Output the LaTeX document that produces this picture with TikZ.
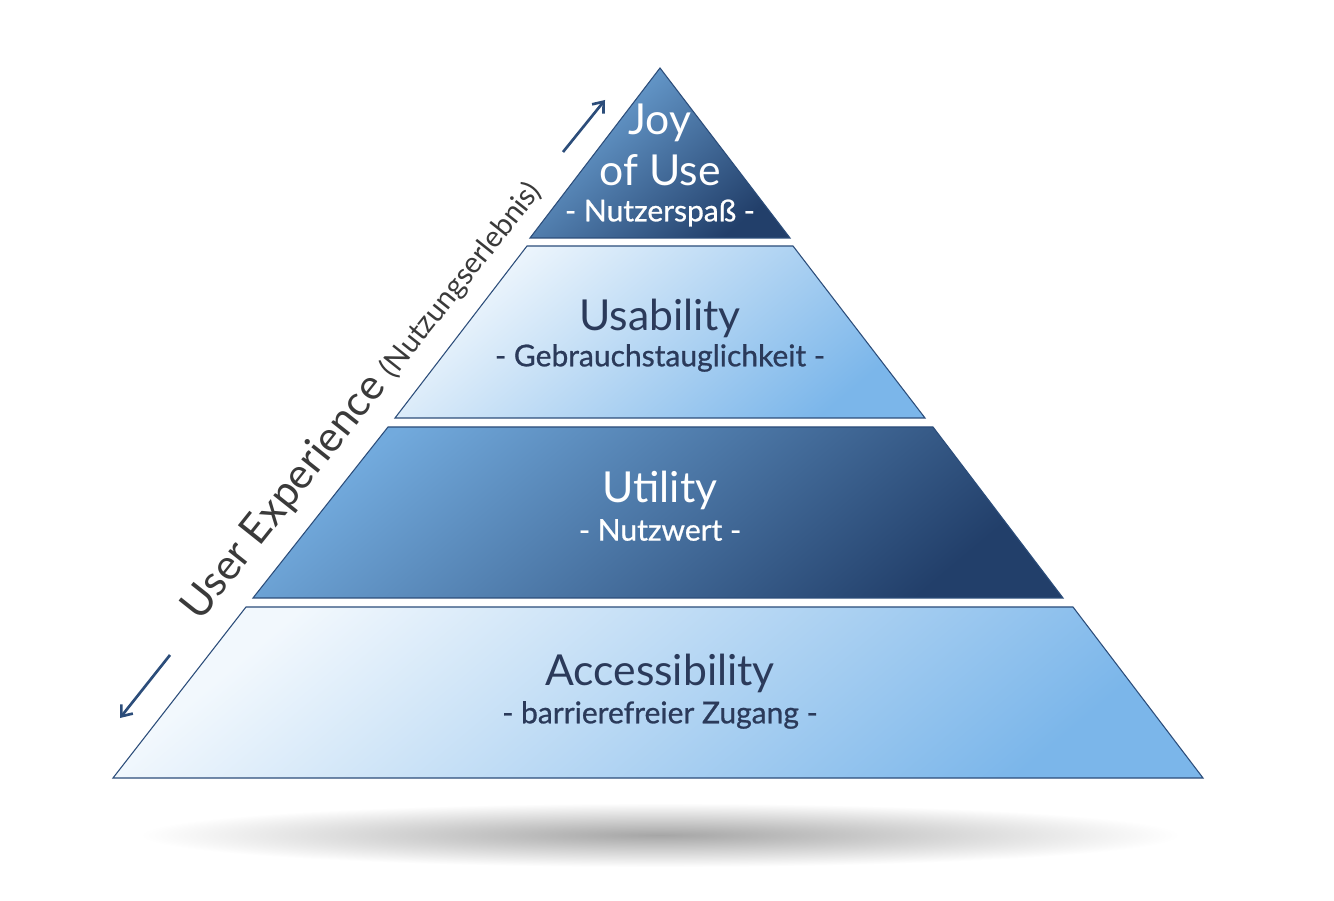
\documentclass[tikz,border=0pt]{standalone}
\usepackage{fontspec}
\setmainfont{Lato}
\newfontfamily\subf[FakeBold=0.8]{Lato}
\usetikzlibrary{arrows.meta}
\definecolor{navy}{HTML}{2C4D7A}
\definecolor{titlecol}{HTML}{2B3A5A}
\definecolor{lightA}{HTML}{F2F8FD}
\definecolor{lightB}{HTML}{7BB6EA}
\definecolor{darkA}{HTML}{72AADD}
\definecolor{darkB}{HTML}{223F6A}
\definecolor{sidecol}{HTML}{3A3A3A}
\tikzset{
  lightlayer/.style={draw=navy, line width=0.8pt, top color=lightA, bottom color=lightB, shading angle=40},
  darklayer/.style={draw=navy, line width=0.8pt, top color=darkA, bottom color=darkB, shading angle=40},
  title/.style={font=\fontsize{32}{35}\selectfont, text=titlecol, inner sep=0pt},
  subtitle/.style={font=\subf\fontsize{22.5}{25}\selectfont, text=titlecol, inner sep=0pt},
  arr/.style={draw=navy, line width=2pt, -{Straight Barb[length=7pt,width=11pt,line width=2pt]}}
}
\begin{document}
\begin{tikzpicture}[x=0.75pt,y=0.75pt]
\useasboundingbox[fill=white] (0,0) rectangle (1334,900);
% shadow
\shade[inner color=black!35, outer color=white] (660,65) ellipse [x radius=520, y radius=32];
% layers
\path[darklayer] (660,832) -- (790,662) -- (530,662) -- cycle;
\path[lightlayer] (527,654) -- (793,654) -- (925,482) -- (395,482) -- cycle;
\path[darklayer] (388,473) -- (933,473) -- (1063,302) -- (253,302) -- cycle;
\path[lightlayer] (246,293) -- (1073,293) -- (1203,122) -- (113,122) -- cycle;
% texts
\node[title, text=white] (joy) at (660,777) {Joy};
\node[title, text=white] (ofuse) at (660,730) {of Use};
\node[subtitle, text=white] (spass) at (660,687) {- Nutzerspaß -};
\node[title] (usab) at (660,582) {Usability};
\node[subtitle] (gebr) at (660,542) {- Gebrauchstauglichkeit -};
\node[title, text=white] (util) at (660,410) {Utility};
\node[subtitle, text=white] (nutzw) at (660,370) {- Nutzwert -};
\node[title] (acc) at (660,227) {Accessibility};
\node[subtitle] (barr) at (660,185) {- barrierefreier Zugang -};
% side label
\node[rotate=51.5, text=sidecol, inner sep=0pt] (ux) at (362,500)
  {\fontsize{31.5}{34}\selectfont User Experience \fontsize{22}{24}\selectfont(Nutzungserlebnis)};
% arrows
\coordinate (upA) at (563,748);
\coordinate (upB) at (605,800);
\coordinate (dnA) at (170,245);
\coordinate (dnB) at (120,182);
\draw[arr] (upA) -- (upB);
\draw[arr] (dnA) -- (dnB);
\end{tikzpicture}
\end{document}
